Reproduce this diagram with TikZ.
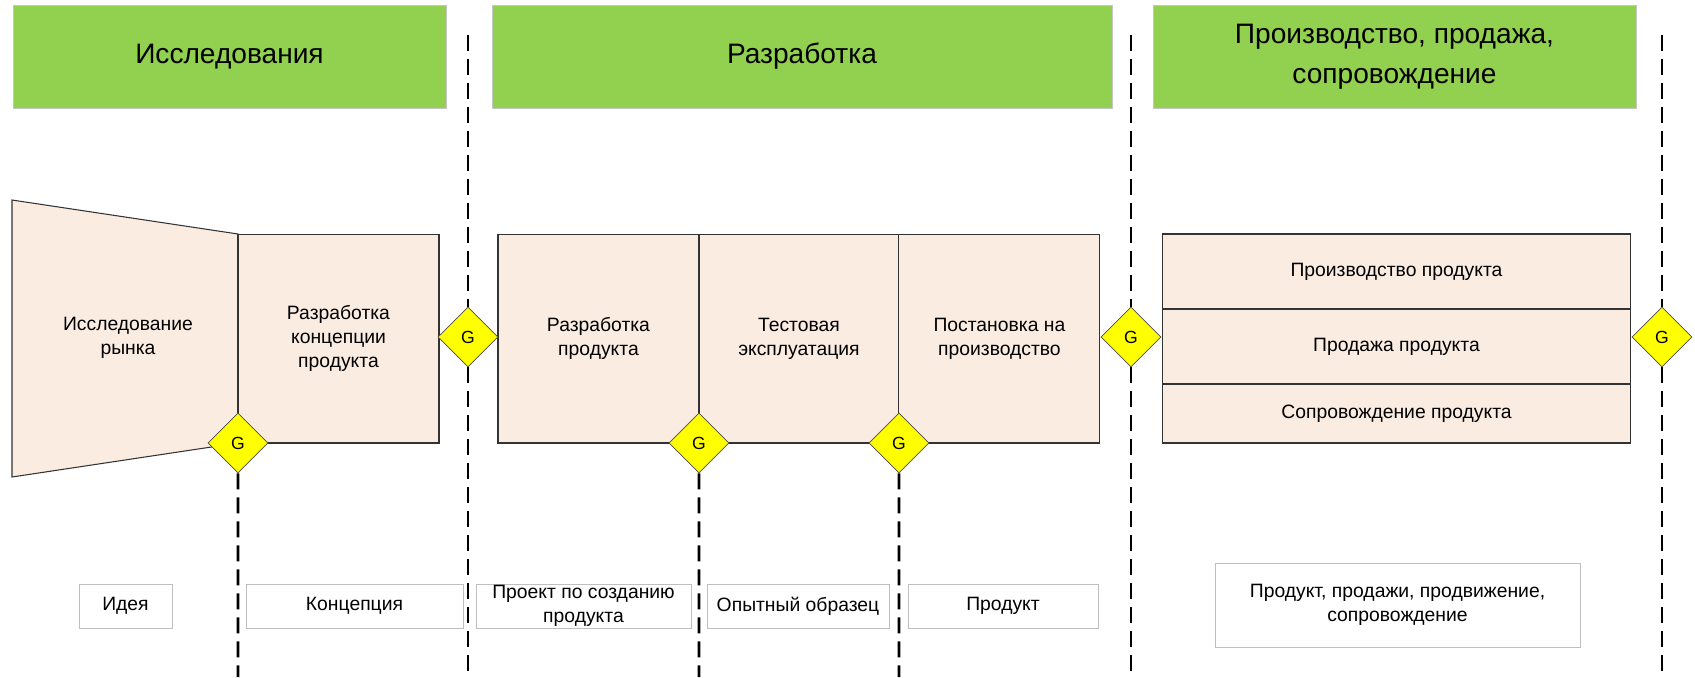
\documentclass[tikz,border=0pt]{standalone}
\usepackage{fontspec}
\setmainfont{Liberation Sans}
\usepackage{xcolor}
\usetikzlibrary{positioning, shapes.geometric}

\definecolor{hdrgreen}{HTML}{92D050}
\definecolor{peach}{HTML}{FBECE2}
\definecolor{gateyellow}{HTML}{FFFF00}

\tikzset{
	header/.style={draw=gray!45, fill=hdrgreen, minimum height=2.06cm, inner sep=0pt, align=center, font=\fontsize{16}{23}\selectfont},
	block/.style={draw=black!80, fill=peach, line width=0.6pt, inner sep=0pt, outer sep=0pt, align=center, font=\fontsize{11}{13.5}\selectfont},
	gate/.style={diamond, draw=black!70, fill=gateyellow, minimum width=1.2cm, minimum height=1.2cm, inner sep=0pt, font=\fontsize{10}{12}\selectfont},
	result/.style={draw=gray!50, fill=white, minimum height=0.88cm, inner sep=0pt, align=center, font=\fontsize{11}{13.5}\selectfont},
	border/.style={dash pattern=on 0.32cm off 0.16cm, line width=1.6pt},
}

\begin{document}
\begin{tikzpicture}[x=0.02cm, y=-0.02cm, node distance=0cm]
	\useasboundingbox (0,0) rectangle (1695,677);
	
	% stages
	\node[header, minimum width=8.66cm] (hres) at (229.5,56.5) {Исследования};
	\node[header, minimum width=12.4cm] (hdev) at (802,56.5) {Разработка};
	\node[header, minimum width=9.66cm] (hprod) at (1394.5,56.5) {Производство, продажа,\\сопровождение};
	
	% research
	\draw[block] (12,200) -- (238,234) -- (238,443) -- (12,477) -- cycle;
	\node[align=center, font=\fontsize{11}{13.5}\selectfont] (market) at (128,338) {Исследование\\рынка};
	\node[block, minimum width=4.02cm, minimum height=4.18cm] (concept) at (338.5,338.5) {Разработка\\концепции\\продукта};
	
	% development
	\node[block, minimum width=4.02cm, minimum height=4.18cm] (dev1) at (598.5,338.5) {Разработка\\продукта};
	\node[block, minimum width=4.0cm, minimum height=4.18cm, right=of dev1] (dev2) {Тестовая\\эксплуатация};
	\node[block, minimum width=4.02cm, minimum height=4.18cm, right=of dev2] (dev3) {Постановка на\\производство};
	
	% production
	\node[block, minimum width=9.38cm, minimum height=1.5cm] (prod1) at (1396.5,271.5) {Производство продукта};
	\node[block, minimum width=9.38cm, minimum height=1.5cm, below=of prod1] (prod2) {Продажа продукта};
	\node[block, minimum width=9.38cm, minimum height=1.18cm, below=of prod2] (prod3) {Сопровождение продукта};
	
	% gates
	\node[gate] (g1) at (concept.south west) {G};
	\node[gate] (g2) at (468,337) {G};
	\node[gate] (g3) at (dev1.south east) {G};
	\node[gate] (g4) at (dev2.south east) {G};
	\node[gate] (g5) at (1131,337) {G};
	\node[gate] (g6) at (1662,337) {G};
	
	\coordinate (t2) at (468,35);
	\coordinate (t5) at (1131,35);
	\coordinate (t6) at (1662,35);
	\coordinate (b1) at (238,677);
	\coordinate (b2) at (468,677);
	\coordinate (b3) at (699,677);
	\coordinate (b4) at (899,677);
	\coordinate (b5) at (1131,677);
	\coordinate (b6) at (1662,677);
	
	\draw (t2) edge[border] (g2);
	\draw (t5) edge[border] (g5);
	\draw (t6) edge[border] (g6);
	\draw (g1) edge[border] (b1);
	\draw (g2) edge[border] (b2);
	\draw (g3) edge[border] (b3);
	\draw (g4) edge[border] (b4);
	\draw (g5) edge[border] (b5);
	\draw (g6) edge[border] (b6);
	
	% results
	\node[result, minimum width=1.86cm] (idea) at (125.5,606) {Идея};
	\node[result, minimum width=4.34cm] (concres) at (354.5,606) {Концепция};
	\node[result, minimum width=4.3cm] (project) at (583.5,606) {Проект по созданию\\продукта};
	\node[result, minimum width=3.64cm] (sample) at (798,606) {Опытный образец};
	\node[result, minimum width=3.8cm] (product) at (1003,606) {Продукт};
	\node[result, minimum width=7.3cm, minimum height=1.68cm] (market2) at (1397.5,605) {Продукт, продажи, продвижение,\\сопровождение};
	
\end{tikzpicture}
\end{document}
